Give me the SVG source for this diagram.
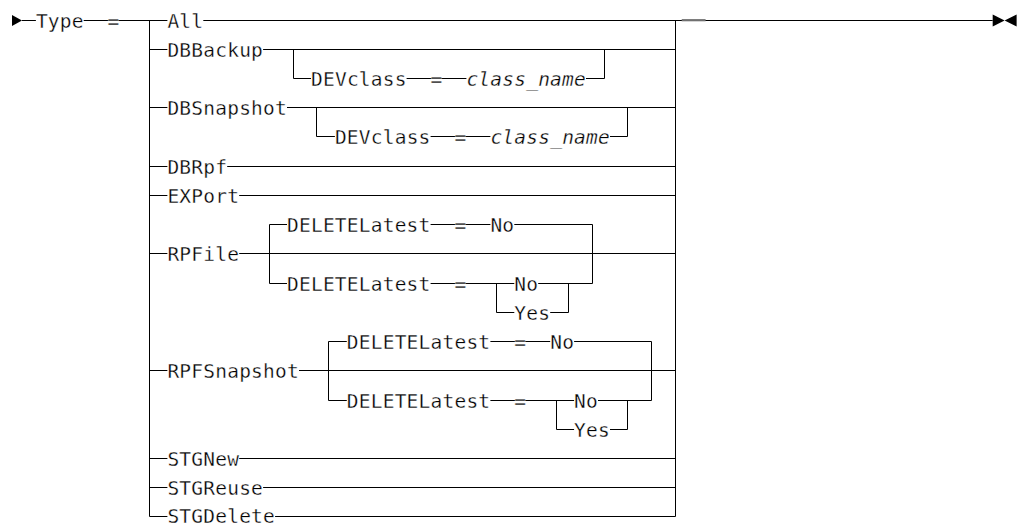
<svg xmlns="http://www.w3.org/2000/svg" width="1017" height="525" viewBox="0 0 1017 525">
<style>
text{font-family:"DejaVu Sans Mono","Liberation Mono",monospace;font-size:19.5px;letter-spacing:0.22px;fill:#000;stroke:#fff;stroke-width:0.3px}
.v{font-style:italic}
.c{fill:none;stroke:#000;stroke-width:1}
.mk{fill:#000}
</style>
<rect width="1017" height="525" fill="#fff"/>
<g id="connectors">
<path class="c" d="M22 20.5H35.9M83.7 20.5H109M118 20.5H167.4M203.3 20.5H992.7M149.5 20.5V516.5M675.5 20.5V516.5"/>
<path class="c" d="M149.5 49.5H167.4M263.1 49.5H675.5M293.5 49.5V78.5H311M406.6 78.5H432M441 78.5H466.4M586 78.5H604.5V49.5"/>
<path class="c" d="M149.5 107.5H167.4M287 107.5H675.5M316.5 107.5V136.5H334.9M430.6 136.5H456M465 136.5H490.4M610 136.5H627.5V107.5"/>
<path class="c" d="M149.5 166.5H167.4M227.2 166.5H675.5M149.5 195.5H167.4M239.2 195.5H675.5"/>
<path class="c" d="M149.5 253.5H167.4M239.2 253.5H675.5M269.5 283.5V224.5H287M430.6 224.5H456M465 224.5H490.4M514.3 224.5H592.5V283.5M269.5 283.5H287M430.6 283.5H456M465 283.5H514.3M538.2 283.5H592.5M496.5 283.5V312.5H514.3M550.2 312.5H568.5V283.5"/>
<path class="c" d="M149.5 370.5H167.4M299 370.5H675.5M328.5 400.5V341.5H346.8M490.4 341.5H515.8M524.7 341.5H550.2M574.1 341.5H651.5V400.5M328.5 400.5H346.8M490.4 400.5H515.8M524.7 400.5H574.1M598 400.5H651.5M556.5 400.5V429.5H574.1M610 429.5H627.5V400.5"/>
<path class="c" d="M149.5 458.5H167.4M239.2 458.5H675.5M149.5 487.5H167.4M263.1 487.5H675.5M149.5 516.5H167.4M275.1 516.5H675.5"/>
<path d="M681.7 20.2H705.6" stroke="#707070" stroke-width="2.2" fill="none"/>
<polygon class="mk" points="12,15 22,20.5 12,26"/>
<polygon class="mk" points="992.7,14.5 1004.6,20.5 992.7,26.5"/>
<polygon class="mk" points="1016.6,14.5 1004.6,20.5 1016.6,26.5"/>
</g>
<g id="type"><text x="35.9" y="27.5">Type</text><text x="107.6" y="27.5">=</text></g>
<g id="all"><text x="167.4" y="27.5">All</text></g>
<g id="dbbackup"><text x="167.4" y="56.5">DBBackup</text></g>
<g id="dbbackup-devclass"><text x="311" y="85.5">DEVclass</text><text x="430.6" y="85.5">=</text><text class="v" x="466.4" y="85.5">class_name</text></g>
<g id="dbsnapshot"><text x="167.4" y="114.5">DBSnapshot</text></g>
<g id="dbsnapshot-devclass"><text x="334.9" y="143.5">DEVclass</text><text x="454.5" y="143.5">=</text><text class="v" x="490.4" y="143.5">class_name</text></g>
<g id="dbrpf"><text x="167.4" y="173.5">DBRpf</text></g>
<g id="export"><text x="167.4" y="202.5">EXPort</text></g>
<g id="rpfile-default"><text x="287" y="231.5">DELETELatest</text><text x="454.5" y="231.5">=</text><text x="490.4" y="231.5">No</text></g>
<g id="rpfile"><text x="167.4" y="260.5">RPFile</text></g>
<g id="rpfile-deletelatest"><text x="287" y="290.5">DELETELatest</text><text x="454.5" y="290.5">=</text><text x="514.3" y="290.5">No</text><text x="514.3" y="319.5">Yes</text></g>
<g id="rpfsnapshot-default"><text x="346.8" y="348.5">DELETELatest</text><text x="514.3" y="348.5">=</text><text x="550.2" y="348.5">No</text></g>
<g id="rpfsnapshot"><text x="167.4" y="377.5">RPFSnapshot</text></g>
<g id="rpfsnapshot-deletelatest"><text x="346.8" y="407.5">DELETELatest</text><text x="514.3" y="407.5">=</text><text x="574.1" y="407.5">No</text><text x="574.1" y="436.5">Yes</text></g>
<g id="stgnew"><text x="167.4" y="465.5">STGNew</text></g>
<g id="stgreuse"><text x="167.4" y="494.5">STGReuse</text></g>
<g id="stgdelete"><text x="167.4" y="523">STGDelete</text></g>
</svg>
